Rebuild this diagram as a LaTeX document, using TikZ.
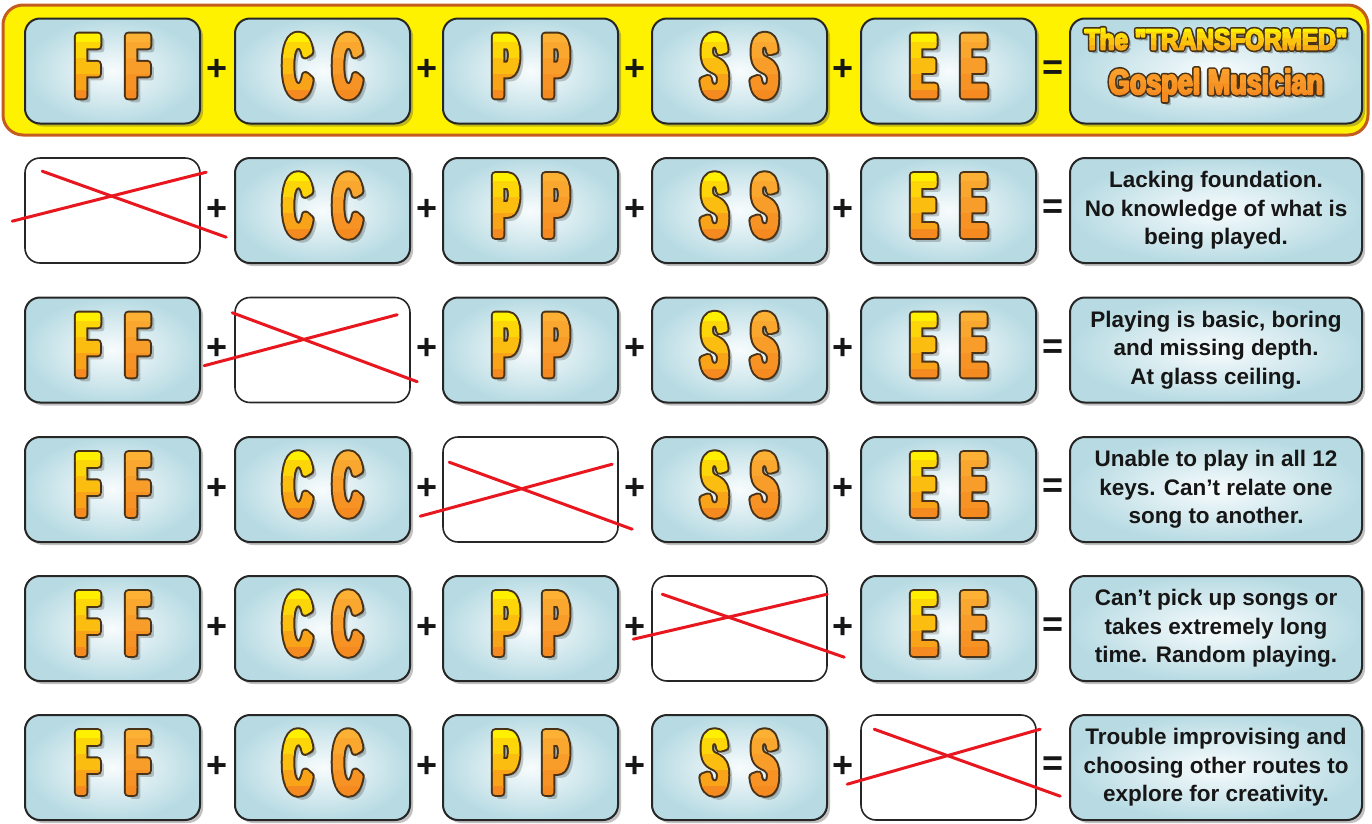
\documentclass[tikz,border=0pt]{standalone}
\usepackage{fontspec}
\setmainfont{Liberation Sans}
\newfontfamily\letfam{Liberation Sans}[FakeStretch=0.44]
\newfontfamily\ttlfamA{Liberation Sans}[FakeStretch=0.84]
\newfontfamily\ttlfamB{Liberation Sans}[FakeStretch=0.77]
\usetikzlibrary{shadows,calc}
\definecolor{boxout}{RGB}{184,219,227}
\definecolor{boxin}{RGB}{248,252,253}
\definecolor{boxline}{RGB}{38,38,38}
\definecolor{crossred}{RGB}{232,22,30}
\definecolor{banfill}{RGB}{255,242,0}
\definecolor{banline}{RGB}{196,92,32}
\definecolor{letyel}{RGB}{255,240,0}
\definecolor{letmid}{RGB}{252,176,52}
\definecolor{letor}{RGB}{245,138,32}
\definecolor{letline}{RGB}{72,50,24}
\definecolor{txt}{RGB}{22,22,22}

% stroked (emboldened) text: pdf text render mode 2 with given line width
\newcommand\trs[1]{\special{pdf:literal direct 2 Tr #1 w 1 j}}
\newcommand\trz{\special{pdf:literal direct 0 Tr}}
\newcommand\bigletfont{\letfam\bfseries\fontsize{87}{87}\selectfont}
\newcommand\restext{\fontsize{22.5}{28.5}\selectfont\bfseries}
\newcommand\ttlone[1]{\trs{#1}\ttlfamA\bfseries\fontsize{29}{29}\selectfont The \symbol{34}TRANSFORMED\symbol{34}\trz}
\newcommand\ttltwo[1]{\trs{#1}\ttlfamB\bfseries\fontsize{35}{35}\selectfont Gospel Musician\trz}

% #1 box name, #2 letter
\newcommand\letpair[2]{%
  \coordinate (#1c) at ([yshift=5pt]#1.center);
  \foreach \s/\ca in {-25/letyel,25/letmid}{%
    \node[inner sep=0pt,text=black,opacity=0.2] at ([xshift=\s pt+4pt,yshift=-4pt]#1c) {\trs{5}\bigletfont #2\trz};
    \node[inner sep=0pt,text=letline] at ([xshift=\s pt]#1c) {\trs{9}\bigletfont #2\trz};
    \foreach \i in {0,...,4}{%
      \pgfmathtruncatemacro\p{\i*25}%
      \begin{scope}
        \clip ([xshift=\s pt-35pt,yshift=40pt-\i*16pt]#1c) rectangle ([xshift=\s pt+35pt,yshift=40pt-\i*16pt-16.6pt]#1c);
        \node[inner sep=0pt,text=letor!\p!\ca] at ([xshift=\s pt]#1c) {\trs{5}\bigletfont #2\trz};
      \end{scope}}}}

% name, x, y, letter
\newcommand\fullbox[4]{%
  \node[lbox] (#1) at (#2,#3) {};
  \letpair{#1}{#4}}

% name, x, y, A start, A end, B start, B end (offsets from north west, px)
\newcommand\crossbox[7]{%
  \node[xbox] (#1) at (#2,#3) {};
  \draw[crossline] ($(#1.north west)+#4$) -- ($(#1.north west)+#5$);
  \draw[crossline] ($(#1.north west)+#6$) -- ($(#1.north west)+#7$);}

\newcommand\FF[3]{\fullbox{#1}{#2}{#3}{F}}
\newcommand\CC[3]{\fullbox{#1}{#2}{#3}{C}}
\newcommand\PP[3]{\fullbox{#1}{#2}{#3}{P}}
\newcommand\SSb[3]{\fullbox{#1}{#2}{#3}{S}}
\newcommand\EE[3]{\fullbox{#1}{#2}{#3}{E}}

\newcommand\ops[2]{% row name, y
  \node[op] (#1p1) at (217,#2-1) {+};
  \node[op] (#1p2) at (427,#2-1) {+};
  \node[op] (#1p3) at (635,#2-1) {+};
  \node[op] (#1p4) at (843,#2-1) {+};
  \node[op] (#1eq) at (1053,#2-1) {=};}

\begin{document}
\begin{tikzpicture}[x=1pt,y=-1pt,
  lbox/.style={rounded corners=15pt,draw=boxline,line width=2pt,minimum width=175pt,minimum height=105pt,inner sep=0pt,
    inner color=boxin,outer color=boxout,
    drop shadow={shadow xshift=3pt,shadow yshift=-3pt,opacity=0.35,fill=black!70}},
  xbox/.style={rounded corners=15pt,draw=boxline,line width=1.6pt,minimum width=175pt,minimum height=105pt,inner sep=0pt,fill=white},
  rbox/.style={lbox,minimum width=292pt,align=center,font=\restext,text=txt},
  op/.style={font=\fontsize{36}{36}\selectfont\bfseries,inner sep=0pt,text=txt},
  crossline/.style={draw=crossred,line width=3pt,line cap=round},
  banner/.style={rounded corners=20pt,draw=banline,line width=3pt,fill=banfill,minimum width=1365pt,minimum height=130pt}
]
\useasboundingbox (0,0) rectangle (1372,823);

% row 1
\node[banner] (banner) at (685.5,70) {};
\FF{b11}{112.5}{71}
\CC{b12}{322.5}{71}
\PP{b13}{530.5}{71}
\SSb{b14}{739.5}{71}
\EE{b15}{948.5}{71}
\node[lbox,minimum width=292pt] (r1) at (1216,71) {};
\coordinate (t1) at ([yshift=21.5pt]r1.center);
\coordinate (t2) at ([yshift=-23pt]r1.center);
\node[inner sep=0pt,anchor=base,text=black,opacity=0.2] at ([xshift=3pt,yshift=-3pt]t1) {\ttlone{1.8}};
\node[inner sep=0pt,anchor=base,text=black,opacity=0.2] at ([xshift=3pt,yshift=-3pt]t2) {\ttltwo{2}};
\node[inner sep=0pt,anchor=base,text=letline] (t1o) at (t1) {\ttlone{5}};
\node[inner sep=0pt,anchor=base,text=letline] (t2o) at (t2) {\ttltwo{5.2}};
\foreach \i in {0,...,3}{%
  \pgfmathtruncatemacro\p{\i*22}%
  \begin{scope}
    \clip ([xshift=-150pt,yshift=24pt-\i*6.5pt]t1) rectangle ([xshift=150pt,yshift=24pt-\i*6.5pt-7pt]t1);
    \node[inner sep=0pt,anchor=base,text=letor!\p!letyel] at (t1) {\ttlone{1.8}};
  \end{scope}
  \pgfmathtruncatemacro\q{40+\i*20}%
  \begin{scope}
    \clip ([xshift=-150pt,yshift=29pt-\i*9pt]t2) rectangle ([xshift=150pt,yshift=29pt-\i*9pt-9.5pt]t2);
    \node[inner sep=0pt,anchor=base,text=letor!\q!letmid] at (t2) {\ttltwo{2}};
  \end{scope}}
\ops{a}{71}

% row 2
\crossbox{b21}{112.5}{210.5}{(18,14)}{(202,80)}{(-12,64)}{(182,15)}
\CC{b22}{322.5}{210.5}
\PP{b23}{530.5}{210.5}
\SSb{b24}{739.5}{210.5}
\EE{b25}{948.5}{210.5}
\node[rbox] (r2) at (1216,210.5) {Lacking foundation.\\No knowledge of what is\\being played.};
\ops{b}{210.5}

% row 3
\FF{b31}{112.5}{350}
\crossbox{b32}{322.5}{350}{(-2,16)}{(183,85)}{(-30,69)}{(163,18)}
\PP{b33}{530.5}{350}
\SSb{b34}{739.5}{350}
\EE{b35}{948.5}{350}
\node[rbox] (r3) at (1216,350) {Playing is basic, boring\\and missing depth.\\At glass ceiling.};
\ops{c}{350}

% row 4
\FF{b41}{112.5}{489.5}
\CC{b42}{322.5}{489.5}
\crossbox{b43}{530.5}{489.5}{(7,26)}{(190,93)}{(-22,80)}{(170,28)}
\SSb{b44}{739.5}{489.5}
\EE{b45}{948.5}{489.5}
\node[rbox] (r4) at (1216,489.5) {Unable to play in all 12\\keys. Can’t relate one\\song to another.};
\ops{d}{489.5}

% row 5
\FF{b51}{112.5}{628.5}
\CC{b52}{322.5}{628.5}
\PP{b53}{530.5}{628.5}
\crossbox{b54}{739.5}{628.5}{(11,19)}{(193,82)}{(-18,64)}{(176,19)}
\EE{b55}{948.5}{628.5}
\node[rbox] (r5) at (1216,628.5) {Can’t pick up songs or\\takes extremely long\\time. Random playing.};
\ops{e}{628.5}

% row 6
\FF{b61}{112.5}{767.5}
\CC{b62}{322.5}{767.5}
\PP{b63}{530.5}{767.5}
\SSb{b64}{739.5}{767.5}
\crossbox{b65}{948.5}{767.5}{(14,15)}{(200,82)}{(-13,70)}{(180,15)}
\node[rbox] (r6) at (1216,767.5) {Trouble improvising and\\choosing other routes to\\explore for creativity.};
\ops{f}{767.5}
\end{tikzpicture}
\end{document}
